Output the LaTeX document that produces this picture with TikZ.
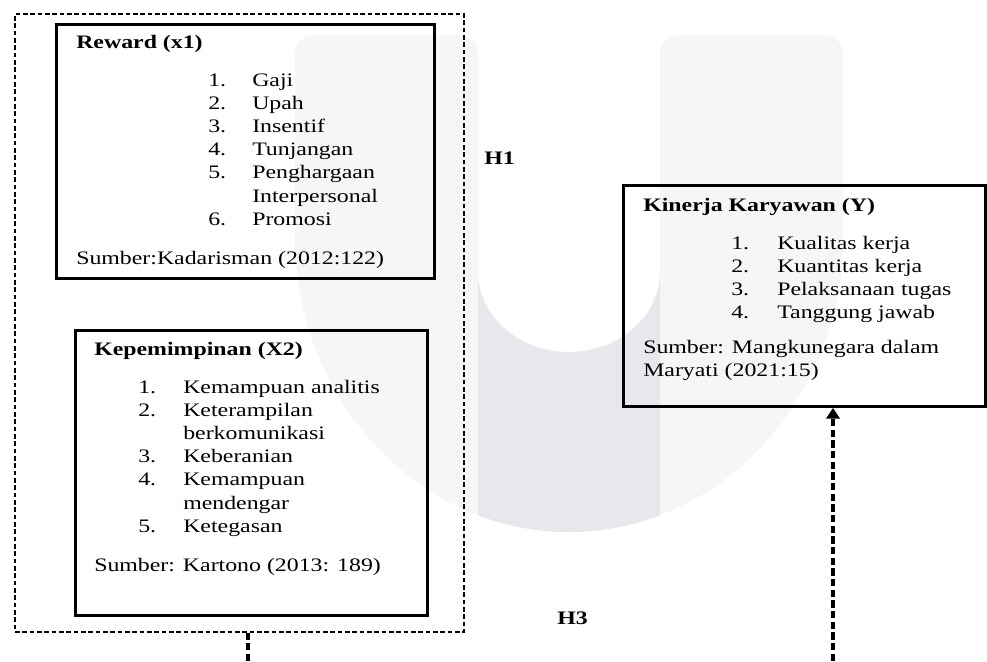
\documentclass[tikz,border=0pt]{standalone}
\usepackage{fontspec}
\setmainfont{Liberation Serif}[FakeStretch=1.25]
\usetikzlibrary{arrows.meta}
\definecolor{wmlight}{HTML}{F6F6F7}
\definecolor{wmdark}{HTML}{E7E8EB}
\begin{document}
\begin{tikzpicture}[x=0.75pt,y=-0.75pt,
  box/.style={draw, line width=2.2pt, inner sep=0pt, anchor=north west},
  dbox/.style={draw, line width=1.5pt, dash pattern=on 3.5pt off 2pt, inner sep=0pt, anchor=north west},
  txt/.style={inner sep=0pt, anchor=base west, font=\fontsize{14.3}{17.4}\selectfont},
  ttl/.style={txt, font=\fontsize{14.3}{17.4}\selectfont\bfseries},
  vconn/.style={line width=2.3pt, dash pattern=on 5.5pt off 2.5pt},
]
\useasboundingbox (0,0) rectangle (987,661);
% watermark
\def\wmpath{(295,236) [rounded corners=14pt] -- (295,35) -- (478,35) [sharp corners] -- (478,272)
  arc[start angle=180, end angle=0, x radius=91, y radius=80]
  [rounded corners=14pt] -- (660,35) -- (843,35) [sharp corners] -- (843,236)
  arc[start angle=0, end angle=180, x radius=274, y radius=296] -- cycle}
\fill[wmlight] \wmpath;
\begin{scope}
\clip (478,0) rectangle (660,661);
\fill[wmdark] \wmpath;
\end{scope}
% boxes
\node[dbox, minimum width=336.75pt, minimum height=463.5pt] (outer) at (14,13) {};
\node[box, minimum width=283.5pt, minimum height=190.5pt] (rew) at (55,23) {};
\node[box, minimum width=264pt, minimum height=213.75pt] (kep) at (74,329) {};
\node[box, minimum width=271.5pt, minimum height=165.75pt] (kin) at (622,184) {};
% Reward
\node[ttl] (rewt) at (76,48) {Reward (x1)};
\node[txt] (rewl) at (208,86) {\begin{tabular}[t]{@{}p{33pt}@{}l@{}}
1. & Gaji\\ 2. & Upah\\ 3. & Insentif\\ 4. & Tunjangan\\ 5. & Penghargaan\\ & Interpersonal\\ 6. & Promosi
\end{tabular}};
\node[txt] (rews) at (76,264) {Sumber:Kadarisman (2012:122)};
% Kepemimpinan
\node[ttl] (kept) at (94,355) {Kepemimpinan (X2)};
\node[txt] (kepl) at (138,393) {\begin{tabular}[t]{@{}p{33.75pt}@{}l@{}}
1. & Kemampuan analitis\\ 2. & Keterampilan\\ & berkomunikasi\\ 3. & Keberanian\\ 4. & Kemampuan\\ & mendengar\\ 5. & Ketegasan
\end{tabular}};
\node[txt] (keps) at (94,571) {Sumber: Kartono (2013: 189)};
% Kinerja
\node[ttl] (kint) at (643,211) {Kinerja Karyawan (Y)};
\node[txt] (kinl) at (731,249) {\begin{tabular}[t]{@{}p{34.5pt}@{}l@{}}
1. & Kualitas kerja\\ 2. & Kuantitas kerja\\ 3. & Pelaksanaan tugas\\ 4. & Tanggung jawab
\end{tabular}};
\node[txt] (kins) at (643,353) {Sumber: Mangkunegara dalam};
\node[txt] (kins2) at (643,376) {Maryati (2021:15)};
% hypotheses
\node[ttl] (h1) at (484,164) {H1};
\node[ttl] (h3) at (557,624) {H3};
% connectors
\coordinate (c1) at (248,661);
\coordinate (c2) at (833,661);
\draw[vconn] (c1) -- (c1 |- outer.south);
\draw[vconn, -{Triangle[length=8pt, width=10pt]}] (c2) -- (c2 |- kin.south);
\end{tikzpicture}
\end{document}
